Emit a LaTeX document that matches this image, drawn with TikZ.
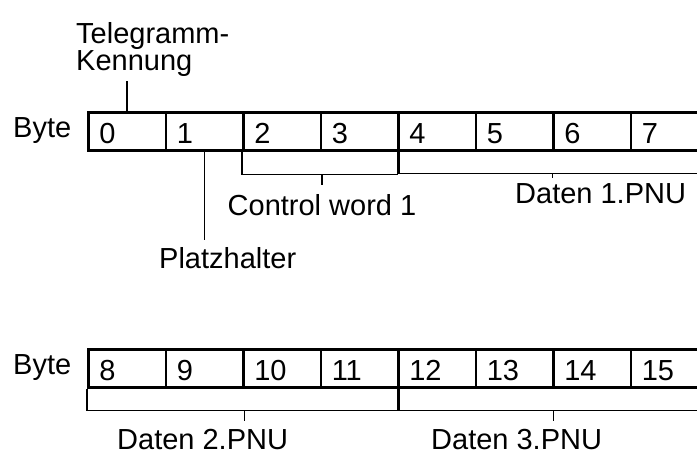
\documentclass[tikz,border=0pt]{standalone}
\usepackage{fontspec}
\setmainfont{Liberation Sans}
\begin{document}
\begin{tikzpicture}[x=1pt,y=-1pt,
  every node/.style={font=\fontsize{29}{27}\selectfont},
  cell/.style={draw, line width=2.5pt, minimum width=77.5pt, minimum height=38pt,
    inner xsep=11pt, inner ysep=0pt, text width=55.5pt, text height=24pt, text depth=0pt,
    align=left, anchor=north west},
  brk/.style={line width=1.4pt},
  lbl/.style={anchor=base west, inner sep=0pt}]
\clip (0,0) rectangle (697,455);
\fill[white] (0,0) rectangle (697,455);
% row 1
\foreach \i in {0,...,7}
  \node[cell] (c\i) at ({87+77.5*\i},111) {\i};
% row 2
\foreach \i [evaluate=\i as \j using int(\i+8)] in {0,...,7}
  \node[cell] (c\j) at ({87+77.5*\i},348) {\j};
% labels
\node[lbl] (byte1) at (13,137) {Byte};
\node[lbl] (byte2) at (13,374) {Byte};
\node[anchor=north west, inner sep=0pt, align=left] (tk) at (76,22) {Telegramm-\\Kennung};
\node[lbl] (ph) at (159,268) {Platzhalter};
\node[anchor=base, inner sep=0pt] (cw) at ([yshift=-64pt]c2.south east) {Control word 1};
\node[lbl] (d1) at (515,203) {Daten 1.PNU};
\node[lbl] (d2) at (117,449) {Daten 2.PNU};
\node[lbl] (d3) at (431,449) {Daten 3.PNU};
% leaders
\coordinate (tkend) at ([yshift=30pt]c0.north);
\draw[brk] (c0.north) -- (tkend);
\coordinate (phend) at ([yshift=-88pt]c1.south);
\draw[brk] (c1.south) -- (phend);
% brackets row 1
\draw[brk] (c2.south west) -- ([yshift=-23pt]c2.south west) -| ([xshift=-2pt]c3.south east);
\coordinate (cwt1) at ([yshift=-23pt]c2.south east);
\coordinate (cwt2) at ([yshift=-33pt]c2.south east);
\draw[brk] (cwt1) -- (cwt2);
\draw[brk] ([xshift=2pt]c4.south west) -- ([xshift=2pt,yshift=-22pt]c4.south west) -| ([xshift=-2pt]c7.south east);
\coordinate (d1t1) at ([xshift=-2pt,yshift=-22pt]c5.south east);
\coordinate (d1t2) at ([xshift=-2pt,yshift=-26pt]c5.south east);
\draw[brk] (d1t1) -- (d1t2);
% brackets row 2
\draw[brk] (c8.south west) -- ([yshift=-22pt]c8.south west) -| ([xshift=-2pt]c11.south east);
\coordinate (d2t1) at ([yshift=-22pt]c9.south east);
\coordinate (d2t2) at ([yshift=-32pt]c9.south east);
\draw[brk] (d2t1) -- (d2t2);
\draw[brk] ([xshift=2pt]c12.south west) -- ([xshift=2pt,yshift=-22pt]c12.south west) -| ([xshift=-2pt]c15.south east);
\coordinate (d3t1) at ([xshift=-1pt,yshift=-22pt]c13.south east);
\coordinate (d3t2) at ([xshift=-1pt,yshift=-32pt]c13.south east);
\draw[brk] (d3t1) -- (d3t2);
\end{tikzpicture}
\end{document}
